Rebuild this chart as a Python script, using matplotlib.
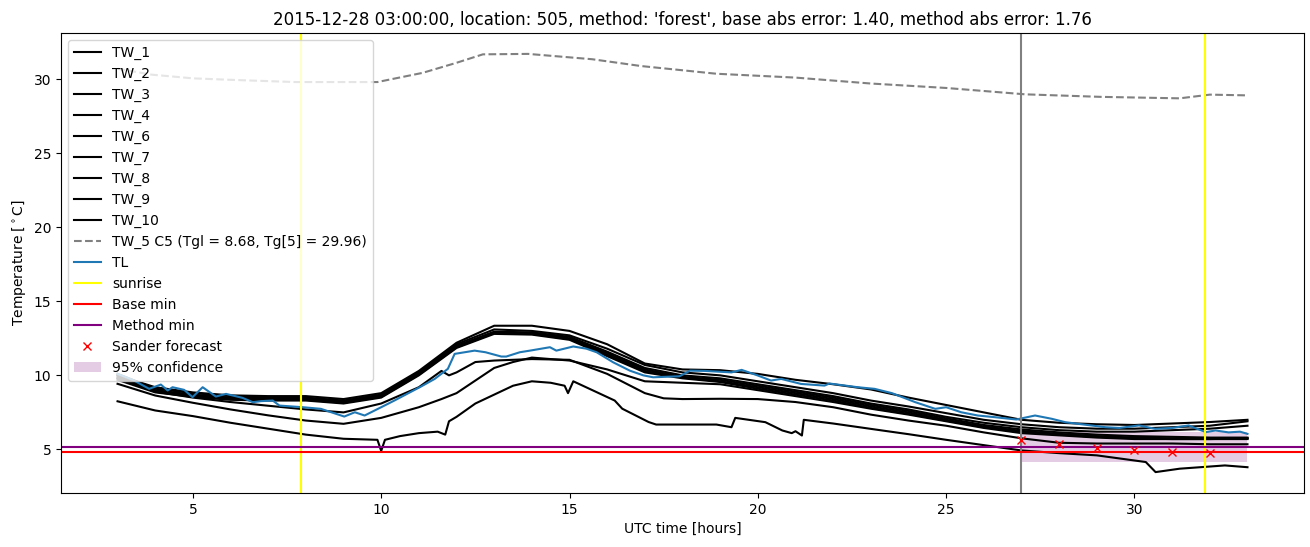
import matplotlib
matplotlib.use("Agg")
import matplotlib.pyplot as plt

# hourly grid for the smoother wall-temperature series
hours = [3, 4, 5, 6, 7, 8, 9, 10, 11, 12, 13, 14, 15, 16, 17, 18, 19, 20, 21, 22,
         23, 24, 25, 26, 27, 28, 29, 30, 31, 32, 33]

tw_1 = [10.0, 9.2, 8.85, 8.65, 8.6, 8.6, 8.4, 8.8, 10.3, 12.2, 13.35, 13.35, 13.0, 12.1, 10.8,
        10.4, 10.35, 10.1, 9.7, 9.4, 9.05, 8.5, 8.0, 7.5, 7.0, 6.8, 6.7, 6.65, 6.75, 6.85, 7.0]
tw_2 = [10.1, 9.1, 8.8, 8.6, 8.5, 8.5, 8.3, 8.7, 10.2, 12.1, 13.1, 13.0, 12.7, 11.8, 10.7,
        10.2, 10.0, 9.6, 9.2, 8.8, 8.3, 7.9, 7.45, 7.0, 6.7, 6.5, 6.4, 6.4, 6.5, 6.6, 6.9]
tw_3 = [10.0, 9.0, 8.7, 8.5, 8.45, 8.45, 8.25, 8.65, 10.15, 12.0, 12.95, 12.9, 12.6, 11.6, 10.5,
        10.0, 9.8, 9.4, 9.0, 8.6, 8.1, 7.7, 7.2, 6.8, 6.5, 6.3, 6.2, 6.2, 6.3, 6.4, 6.6]
tw_4 = [9.9, 8.95, 8.65, 8.45, 8.4, 8.4, 8.2, 8.6, 10.1, 11.95, 12.9, 12.85, 12.5, 11.5, 10.4,
        9.9, 9.7, 9.3, 8.9, 8.5, 8.0, 7.6, 7.1, 6.65, 6.35, 6.15, 6.0, 5.9, 5.85, 5.8, 5.8]
tw_6 = [9.8, 8.9, 8.6, 8.4, 8.35, 8.35, 8.15, 8.55, 10.05, 11.9, 12.85, 12.8, 12.45, 11.4, 10.3,
        9.85, 9.6, 9.2, 8.8, 8.4, 7.9, 7.5, 7.0, 6.55, 6.25, 6.05, 5.9, 5.8, 5.75, 5.75, 5.75]
tw_7 = [9.7, 8.85, 8.55, 8.35, 8.3, 8.3, 8.1, 8.5, 10.0, 11.85, 12.8, 12.75, 12.4, 11.3, 10.2,
        9.8, 9.55, 9.1, 8.7, 8.3, 7.8, 7.4, 6.95, 6.5, 6.2, 6.0, 5.85, 5.75, 5.7, 5.7, 5.7]

# series with more detail get their own time axis
t_tw_8 = [3, 4, 5, 6, 7, 8, 9, 10, 11, 11.6, 11.8, 12, 12.5, 13, 14, 15, 16, 17, 17.5, 18, 19,
          20, 21, 22, 23, 24, 25, 26, 27, 28, 29, 30, 31, 32, 33]
tw_8 = [9.8, 8.9, 8.5, 8.2, 7.95, 7.7, 7.5, 8.1, 9.2, 10.3, 10.0, 10.2, 10.9, 11.0, 11.1, 11.05,
        10.1, 8.8, 8.45, 8.4, 8.42, 8.4, 8.2, 7.85, 7.35, 6.95, 6.6, 6.15, 5.75, 5.45, 5.4, 5.4,
        5.4, 5.35, 5.35]
t_tw_9 = [3, 4, 5, 6, 7, 8, 9, 10, 11, 11.6, 12, 12.5, 13, 13.5, 14, 15, 16, 17, 18, 19, 20, 21,
          22, 23, 24, 25, 26, 27, 28, 29, 30, 31, 32, 33]
tw_9 = [9.43, 8.64, 8.15, 7.7, 7.3, 6.95, 6.73, 7.13, 7.85, 8.4, 8.8, 9.65, 10.5, 10.9, 11.2, 11.0,
        10.4, 9.6, 9.5, 9.4, 9.0, 8.6, 8.2, 7.75, 7.35, 6.9, 6.45, 6.1, 5.95, 5.8, 5.7, 5.7, 5.7,
        5.75]
t_tw_10 = [3, 4, 5, 6, 7, 8, 9, 9.9, 10.0, 10.1, 10.5, 11, 11.5, 11.7, 11.8, 12, 12.5, 13, 13.5,
           14, 14.5, 14.87, 14.96, 15.1, 16.2, 16.4, 17.1, 17.3, 18.9, 19.3, 19.4, 20.2, 20.65,
           20.9, 21.0, 21.17, 21.22, 22, 23.3, 24, 25, 26, 27, 28, 29, 30.3, 30.56, 31.2, 32.4, 33]
tw_10 = [8.25, 7.63, 7.25, 6.8, 6.4, 6.0, 5.72, 5.65, 4.9, 5.65, 5.9, 6.1, 6.2, 6.0, 6.9, 7.2,
         8.1, 8.7, 9.3, 9.6, 9.5, 9.3, 8.8, 9.6, 8.3, 7.75, 6.85, 6.68, 6.68, 6.5, 7.13, 6.84,
         6.28, 6.1, 6.23, 5.94, 7.0, 6.75, 6.28, 6.03, 5.65, 5.29, 4.93, 4.75, 4.6, 4.15, 3.47,
         3.7, 3.92, 3.8]

t_tw_5 = [3, 3.9, 5, 6, 7.7, 9.9, 11.1, 12.0, 12.7, 13.9, 15.6, 16.9, 18.9, 21.0, 23.0, 25.0,
          27.1, 29.1, 31.2, 32.0, 33.0]
tw_5 = [30.7, 30.3, 30.05, 29.95, 29.8, 29.8, 30.42, 31.1, 31.67, 31.7, 31.34, 30.88, 30.36,
        30.1, 29.7, 29.4, 28.97, 28.8, 28.7, 28.95, 28.9]

t_tl = [3, 3.4, 3.84, 4.15, 4.33, 4.46, 4.77, 4.99, 5.26, 5.61, 5.88, 6.32, 6.59, 6.81, 7.12,
        7.3, 7.92, 8.4, 9.02, 9.3, 9.56, 10.0, 10.35, 11.06, 11.42, 11.77, 11.95, 12.48, 12.77,
        13.19, 13.32, 13.68, 13.95, 14.48, 14.65, 15.1, 15.45, 15.72, 16.16, 16.6, 16.96, 17.22,
        17.92, 18.2, 18.6, 19.3, 19.57, 20.0, 20.35, 20.62, 21.15, 21.77, 21.9, 22.65, 23.1,
        23.56, 24.18, 24.71, 25.0, 25.4, 25.84, 26.28, 26.86, 27.36, 27.8, 28.16, 28.5, 29.23,
        29.6, 30.12, 30.55, 31.0, 31.44, 31.65, 31.9, 32.15, 32.5, 32.8, 33.0]
tl = [10.1, 9.7, 9.09, 9.38, 8.98, 9.2, 9.02, 8.53, 9.2, 8.57, 8.75, 8.48, 8.19, 8.26, 8.3,
      7.96, 7.85, 7.74, 7.22, 7.51, 7.29, 7.85, 8.3, 9.25, 9.76, 10.44, 11.45, 11.67, 11.56,
      11.27, 11.27, 11.56, 11.67, 11.9, 11.67, 11.95, 11.8, 11.56, 10.88, 10.32, 10.0, 9.87,
      9.94, 10.32, 10.3, 10.2, 10.37, 9.99, 9.65, 9.76, 9.42, 9.31, 9.45, 9.2, 9.09, 8.8, 8.19,
      7.74, 7.85, 7.51, 7.29, 7.18, 7.02, 7.29, 7.07, 6.84, 6.73, 6.5, 6.45, 6.62, 6.39, 6.45,
      6.62, 6.4, 6.17, 6.28, 6.15, 6.2, 6.05]

sunrise = [7.87, 31.86]
now_time = 27.0
base_min = 4.82
method_min = 5.15
sander_t = [27, 28, 29, 30, 31, 32]
sander_val = [5.65, 5.38, 5.11, 4.98, 4.85, 4.78]
conf_t = [27, 33]
conf_low = [4.12, 4.12]
conf_high = [6.18, 6.18]

title = ("2015-12-28 03:00:00, location: 505, method: 'forest', "
         "base abs error: 1.40, method abs error: 1.76")

fig, ax = plt.subplots(figsize=(13.1, 5.47), dpi=100)
fig.subplots_adjust(left=0.0466, right=0.9954, top=0.9397, bottom=0.0987)

# wall temperatures
ax.plot(hours, tw_1, color="black", label="TW_1")
ax.plot(hours, tw_2, color="black", label="TW_2")
ax.plot(hours, tw_3, color="black", label="TW_3")
ax.plot(hours, tw_4, color="black", label="TW_4")
ax.plot(hours, tw_6, color="black", label="TW_6")
ax.plot(hours, tw_7, color="black", label="TW_7")
ax.plot(t_tw_8, tw_8, color="black", label="TW_8")
ax.plot(t_tw_9, tw_9, color="black", label="TW_9")
ax.plot(t_tw_10, tw_10, color="black", label="TW_10")
ax.plot(t_tw_5, tw_5, color="gray", linestyle="--",
        label="TW_5 C5 (Tgl = 8.68, Tg[5] = 29.96)")
ax.plot(t_tl, tl, color="tab:blue", label="TL")

ax.axvline(sunrise[0], color="yellow", label="sunrise")
ax.axvline(sunrise[1], color="yellow")
ax.axvline(now_time, color="gray")
ax.axhline(base_min, color="red", label="Base min")
ax.axhline(method_min, color="purple", label="Method min")
ax.plot(sander_t, sander_val, "x", color="red", label="Sander forecast")
ax.fill_between(conf_t, conf_low, conf_high, color="purple", alpha=0.2,
                linewidth=0, label="95% confidence")

ax.set_title(title)
ax.set_xlabel("UTC time [hours]")
ax.set_ylabel(r"Temperature [$^\circ$C]")
ax.legend(loc="upper left")

fig.savefig("out.png", dpi=100)
